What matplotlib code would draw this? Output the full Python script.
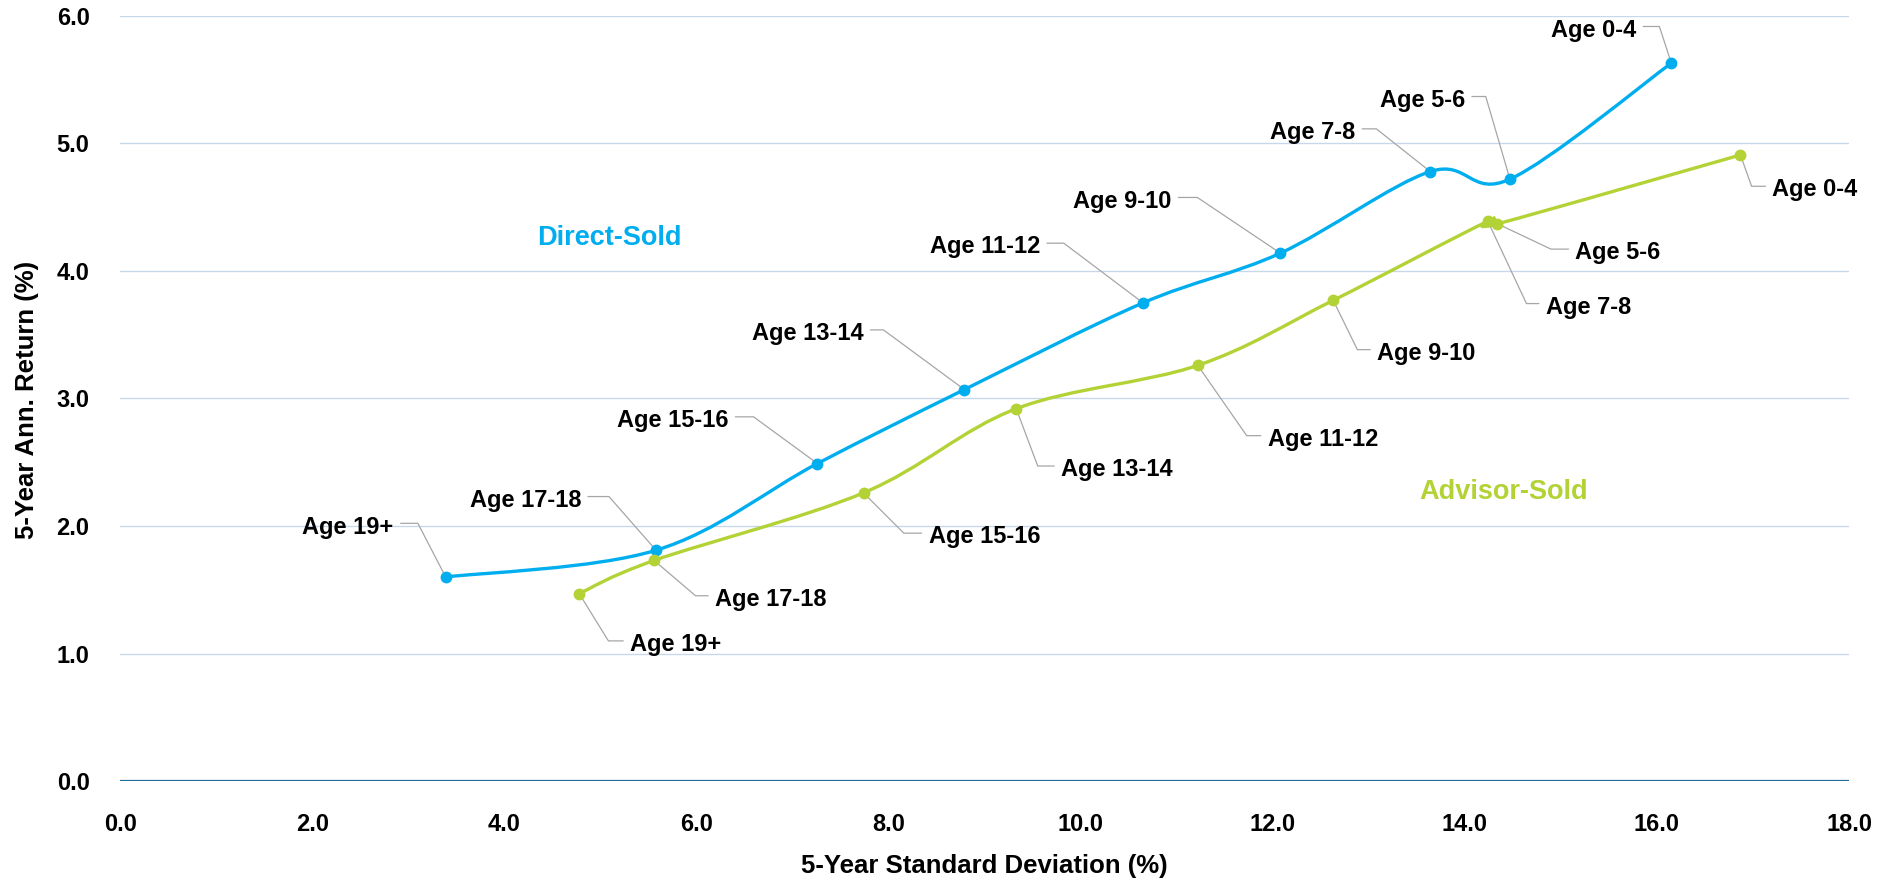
import numpy as np
import matplotlib.pyplot as plt
from matplotlib.path import Path
from matplotlib.patches import PathPatch

plt.rcParams["font.family"] = ["Liberation Sans", "DejaVu Sans"]

# data (x = 5-yr std dev, y = 5-yr annualised return)
ages = ["Age 0-4", "Age 5-6", "Age 7-8", "Age 9-10", "Age 11-12",
        "Age 13-14", "Age 15-16", "Age 17-18", "Age 19+"]
direct_sd = [16.15, 14.47, 13.64, 12.08, 10.65, 8.79, 7.26, 5.58, 3.39]
direct_ret = [5.63, 4.72, 4.78, 4.14, 3.75, 3.07, 2.49, 1.81, 1.60]
advisor_sd = [16.87, 14.34, 14.24, 12.63, 11.22, 9.33, 7.74, 5.56, 4.78]
advisor_ret = [4.91, 4.37, 4.39, 3.77, 3.26, 2.92, 2.26, 1.73, 1.47]

x_ticks = np.arange(0, 19, 2)
y_ticks = np.arange(0, 7, 1)

# label layout: text offset and leader elbow, in pixels from the point
direct_text_off = [(-35, 33), (-45, 79), (-75, 39), (-109, 52), (-103, 56),
                   (-101, 56), (-89, 43), (-75, 50), (-52, 50)]
direct_elbow = [(-12, 37), (-24, 82), (-53, 42), (-85, 57), (-81, 61),
                (-80, 59), (-67, 49), (-50, 57), (-28, 54)]
advisor_text_off = [(32, -35), (78, -29), (58, -86), (44, -53), (70, -74),
                    (45, -61), (65, -44), (61, -39), (51, -51)]
advisor_elbow = [(11, -31), (55, -26), (38, -81), (24, -49), (48, -69),
                 (21, -56), (42, -42), (41, -35), (29, -47)]

BLUE = "#00AEEF"
GREEN = "#B3D235"
GREY = "#A6A6A6"


def smooth_path(xs, ys):
    # excel-like smoothed line: catmull-rom segments as cubic beziers
    pts = np.column_stack([xs, ys])
    p = np.vstack([pts[:1], pts, pts[-1:]])
    verts = [pts[0]]
    codes = [Path.MOVETO]
    for i in range(1, len(p) - 2):
        c1 = p[i] + (p[i + 1] - p[i - 1]) / 6
        c2 = p[i + 1] - (p[i + 2] - p[i]) / 6
        verts += [c1, c2, p[i + 1]]
        codes += [Path.CURVE4] * 3
    return Path(verts, codes)


def label_points(ax, xs, ys, text_off, elbows, left):
    for name, x, y, off, el in zip(ages, xs, ys, text_off, elbows):
        ang = np.degrees(np.arctan2(el[1], el[0]))
        ax.annotate(name, (x, y), xytext=off, textcoords="offset pixels",
                    ha="right" if left else "left", va="center",
                    fontsize=17, fontweight="bold", color="black",
                    arrowprops=dict(arrowstyle="-", color=GREY, lw=0.9,
                                    shrinkA=3, shrinkB=0,
                                    relpos=(1 if left else 0, 0.66),
                                    connectionstyle=f"angle,angleA=0,angleB={ang},rad=0"))


fig = plt.figure(figsize=(18.97, 8.83), dpi=100)
ax = fig.add_axes([0.0633, 0.1155, 0.9114, 0.8664])

ax.set_xlim(0, 18)
ax.set_ylim(0, 6)
for s in ax.spines.values():
    s.set_visible(False)

for v in y_ticks[1:]:
    ax.axhline(v, color="#C9D7EB", lw=1.0, zorder=0)
ax.axhline(0, color="#1F6A9A", lw=1.6, zorder=1)

ax.add_patch(PathPatch(smooth_path(direct_sd, direct_ret), fill=False,
                       edgecolor=BLUE, lw=2.4, zorder=3))
ax.add_patch(PathPatch(smooth_path(advisor_sd, advisor_ret), fill=False,
                       edgecolor=GREEN, lw=2.4, zorder=3))
ax.plot(direct_sd, direct_ret, "o", color=BLUE, ms=7.5, zorder=4)
ax.plot(advisor_sd, advisor_ret, "o", color=GREEN, ms=7.5, zorder=4)

label_points(ax, direct_sd, direct_ret, direct_text_off, direct_elbow, True)
label_points(ax, advisor_sd, advisor_ret, advisor_text_off, advisor_elbow, False)

ax.text(5.09, 4.26, "Direct-Sold", color=BLUE, fontsize=19.5, fontweight="bold",
        ha="center", va="center")
ax.text(14.40, 2.27, "Advisor-Sold", color=GREEN, fontsize=19.5, fontweight="bold",
        ha="center", va="center")

ax.set_xticks(x_ticks)
ax.set_xticklabels([f"{v:.1f}" for v in x_ticks])
ax.set_yticks(y_ticks)
ax.set_yticklabels([f"{v:.1f}" for v in y_ticks])
ax.tick_params(axis="both", length=0, labelsize=17)
ax.tick_params(axis="x", pad=23)
ax.tick_params(axis="y", pad=22)
for t in ax.get_xticklabels() + ax.get_yticklabels():
    t.set_fontweight("bold")

fig.text(984.5 / 1897, 1 - 866 / 883, "5-Year Standard Deviation (%)",
         ha="center", va="center", fontsize=18.5, fontweight="bold")
fig.text(27 / 1897, 1 - 400 / 883, "5-Year Ann. Return (%)", rotation=90,
         ha="center", va="center", fontsize=18.5, fontweight="bold")

fig.savefig("out.png", dpi=100)
